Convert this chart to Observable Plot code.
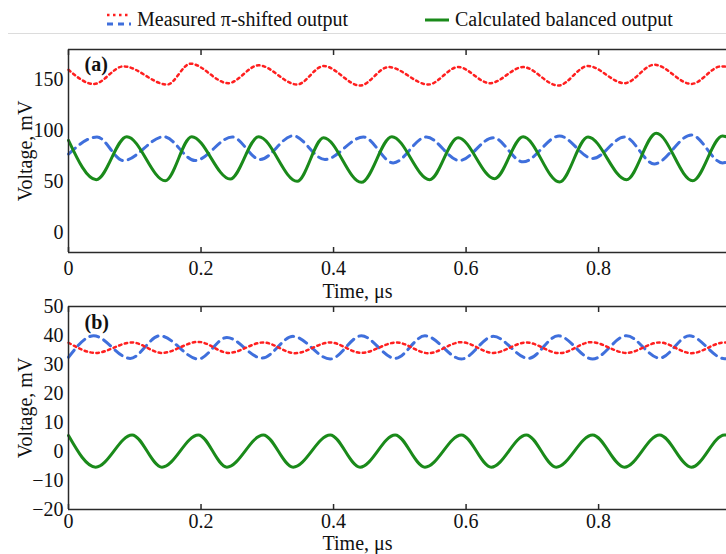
<!DOCTYPE html>
<html><head><meta charset="utf-8">
<script src="https://cdn.jsdelivr.net/npm/d3@7"></script>
<script src="https://cdn.jsdelivr.net/npm/@observablehq/plot@0.6"></script>
<style>
body{margin:0;background:#fff;}
#wrap{position:relative;width:726px;height:554px;overflow:hidden;font-family:"Liberation Serif","Times New Roman",serif;color:#111;}
#legend{position:absolute;left:0;top:0;width:726px;height:34px;}
#legend .rule{position:absolute;left:8px;right:0;top:33px;height:1px;background:#dcdcdc;}
.item{position:absolute;top:8px;font-size:20px;line-height:22px;display:flex;align-items:center;white-space:nowrap;}
.item svg{margin-right:5px;}
.panel{position:absolute;left:0;}
</style></head>
<body>
<div id="wrap">
  <div id="legend">
    <div class="item" style="left:106px">
      <svg width="26" height="22"><line x1="1" x2="25" y1="7" y2="7" stroke="#ff1f1f" stroke-width="2.5" stroke-dasharray="2.5,3.5"/><line x1="1" x2="25" y1="16" y2="16" stroke="#3f6fdc" stroke-width="3" stroke-dasharray="6,5"/></svg>
      <span>Measured π-shifted output</span>
    </div>
    <div class="item" style="left:424px">
      <svg width="26" height="22"><line x1="1" x2="25" y1="12" y2="12" stroke="#1a8a1a" stroke-width="3"/></svg>
      <span>Calculated balanced output</span>
    </div>
    <div class="rule"></div>
  </div>
  <div id="pa" class="panel" style="top:0px"></div>
  <div id="pb" class="panel" style="top:300px"></div>
</div>
<script>
// ---- shared axis data ----
const xDomain = [0, 0.993];
const xTicks = [0, 0.2, 0.4, 0.6, 0.8];
const xLabel = "Time, μs";
const yLabel = "Voltage, mV";

// ---- panel (a) ----
const aYDomain = [-20, 180];
const aYTicks = [0, 50, 100, 150];
const aRedT   = [0, 0.038, 0.083, 0.149, 0.184, 0.241, 0.287, 0.345, 0.385, 0.44, 0.483, 0.543, 0.588, 0.636, 0.686, 0.739, 0.784, 0.839, 0.884, 0.94, 0.985, 0.993];
const aRedV   = [160, 146, 163.4, 145.5, 166, 146.8, 164.4, 145.5, 163.7, 144.5, 162.7, 145.5, 162.7, 146.8, 162.7, 144.5, 163.7, 146.8, 165, 146.1, 163.4, 163];
const aBlueT  = [0, 0.043, 0.083, 0.144, 0.191, 0.247, 0.289, 0.339, 0.387, 0.445, 0.49, 0.54, 0.59, 0.641, 0.686, 0.741, 0.791, 0.839, 0.884, 0.94, 0.987, 0.993];
const aBlueV  = [77, 93.8, 70.6, 94.1, 70.6, 93.8, 71.6, 95, 71.6, 93.8, 68.3, 93.8, 70.6, 93.1, 69.3, 94.8, 72.6, 93.8, 67.3, 95.8, 68.3, 69];
const aGreenT = [0, 0.042, 0.088, 0.146, 0.186, 0.244, 0.287, 0.345, 0.385, 0.442, 0.488, 0.545, 0.588, 0.643, 0.686, 0.741, 0.784, 0.842, 0.887, 0.942, 0.987, 0.993];
const aGreenV = [90.5, 51.7, 94.1, 50.7, 94.1, 52.4, 94.1, 50.1, 93.1, 49.1, 94.1, 51.7, 93.1, 52.7, 94.1, 49.4, 93.8, 51.7, 97.4, 50.7, 94.8, 94];

// ---- panel (b) ----
const bYDomain = [-20, 50];
const bYTicks = [-20, -10, 0, 10, 20, 30, 40, 50];
const bRedT   = [0, 0.041, 0.096, 0.141, 0.196, 0.242, 0.294, 0.342, 0.395, 0.442, 0.495, 0.543, 0.593, 0.641, 0.691, 0.741, 0.789, 0.842, 0.892, 0.94, 0.99, 0.993];
const bRedV   = [37.5, 34.0, 37.6, 34.0, 37.8, 34.0, 37.6, 33.9, 37.6, 34.0, 37.6, 33.9, 37.7, 34.0, 37.6, 33.9, 37.7, 34.0, 37.6, 33.9, 37.6, 37.6];
const bBlueT  = [0, 0.038, 0.093, 0.138, 0.196, 0.239, 0.292, 0.339, 0.395, 0.442, 0.493, 0.538, 0.593, 0.641, 0.694, 0.739, 0.791, 0.842, 0.892, 0.937, 0.99, 0.993];
const bBlueV  = [32.5, 39.9, 32.1, 39.9, 31.9, 39.3, 32.2, 39.7, 31.9, 39.9, 32.1, 39.9, 31.9, 39.7, 32.1, 39.9, 31.9, 39.9, 32.2, 39.9, 32.0, 32.0];
const bGreenT = [0, 0.041, 0.096, 0.141, 0.196, 0.239, 0.294, 0.339, 0.395, 0.44, 0.493, 0.538, 0.593, 0.638, 0.691, 0.736, 0.791, 0.839, 0.892, 0.94, 0.99, 0.993];
const bGreenV = [5.5, -5.4, 5.7, -5.4, 5.7, -5.4, 5.7, -5.4, 5.7, -5.4, 5.7, -5.4, 5.7, -5.4, 5.7, -5.4, 5.7, -5.4, 5.7, -5.4, 5.7, 5.7];

const RED = "#ff1f1f", BLUE = "#3f6fdc", GREEN = "#1a8a1a", FRAME = "#2a2a2a";
const zip = (T, V) => T.map((t, i) => ({t, v: V[i]}));
const fmtY = d => d < 0 ? "\u2212" + (-d) : String(d);

function panel(o) {
  return Plot.plot({
    width: 726, height: o.height,
    marginLeft: 68, marginRight: 0, marginTop: o.mt, marginBottom: o.mb,
    style: {fontFamily: '"Liberation Serif","Times New Roman",serif', fontSize: "20px", background: "transparent", overflow: "visible", color: "#111"},
    x: {domain: xDomain},
    y: {domain: o.yDomain},
    marks: [
      Plot.axisY({ticks: o.yTicks, tickFormat: fmtY, tickSize: 0, tickPadding: 5, fontSize: 20, label: null}),
      Plot.axisX({ticks: xTicks, tickFormat: d => String(d), tickSize: 0, tickPadding: o.xPad, fontSize: 20, label: null}),
      Plot.axisX({ticks: xTicks, tickFormat: () => "", tickSize: -5, stroke: FRAME, strokeWidth: 1.5, label: null}),
      Plot.axisX({anchor: "top", ticks: xTicks, tickFormat: () => "", tickSize: -5, stroke: FRAME, strokeWidth: 1.5, label: null}),
      Plot.line(zip(o.blueT, o.blueV), {x: "t", y: "v", stroke: BLUE, strokeWidth: 3, strokeDasharray: "9,6", curve: "monotone-x"}),
      Plot.line(zip(o.redT, o.redV), {x: "t", y: "v", stroke: RED, strokeWidth: 2.5, strokeDasharray: "2.5,3.5", curve: "monotone-x"}),
      Plot.line(zip(o.greenT, o.greenV), {x: "t", y: "v", stroke: GREEN, strokeWidth: 3, curve: "monotone-x"}),
      Plot.ruleY(o.yDomain, {stroke: FRAME, strokeWidth: 1.5}),
      Plot.ruleX([xDomain[0]], {stroke: FRAME, strokeWidth: 1.5}),
      Plot.text([o.tag], {frameAnchor: "top-left", dx: 16, dy: o.tagDy, fontWeight: "bold", fontSize: 20, lineAnchor: "top"}),
      Plot.text([yLabel], {frameAnchor: "left", dx: -43, rotate: -90, textAnchor: "middle", lineAnchor: "middle", fontSize: 20}),
      Plot.text([xLabel], {frameAnchor: "bottom", dx: -40, dy: o.xlDy, textAnchor: "middle", lineAnchor: "middle", fontSize: 20})
    ]
  });
}

document.getElementById("pa").append(panel({
  height: 300, mt: 49, mb: 48, yDomain: aYDomain, yTicks: aYTicks, tag: "(a)", tagDy: 7, xlDy: 39, xPad: 8,
  redT: aRedT, redV: aRedV, blueT: aBlueT, blueV: aBlueV, greenT: aGreenT, greenV: aGreenV
}));
document.getElementById("pb").append(panel({
  height: 254, mt: 6, mb: 45, yDomain: bYDomain, yTicks: bYTicks, tag: "(b)", tagDy: 8, xlDy: 34, xPad: 4,
  redT: bRedT, redV: bRedV, blueT: bBlueT, blueV: bBlueV, greenT: bGreenT, greenV: bGreenV
}));
</script>
</body></html>
